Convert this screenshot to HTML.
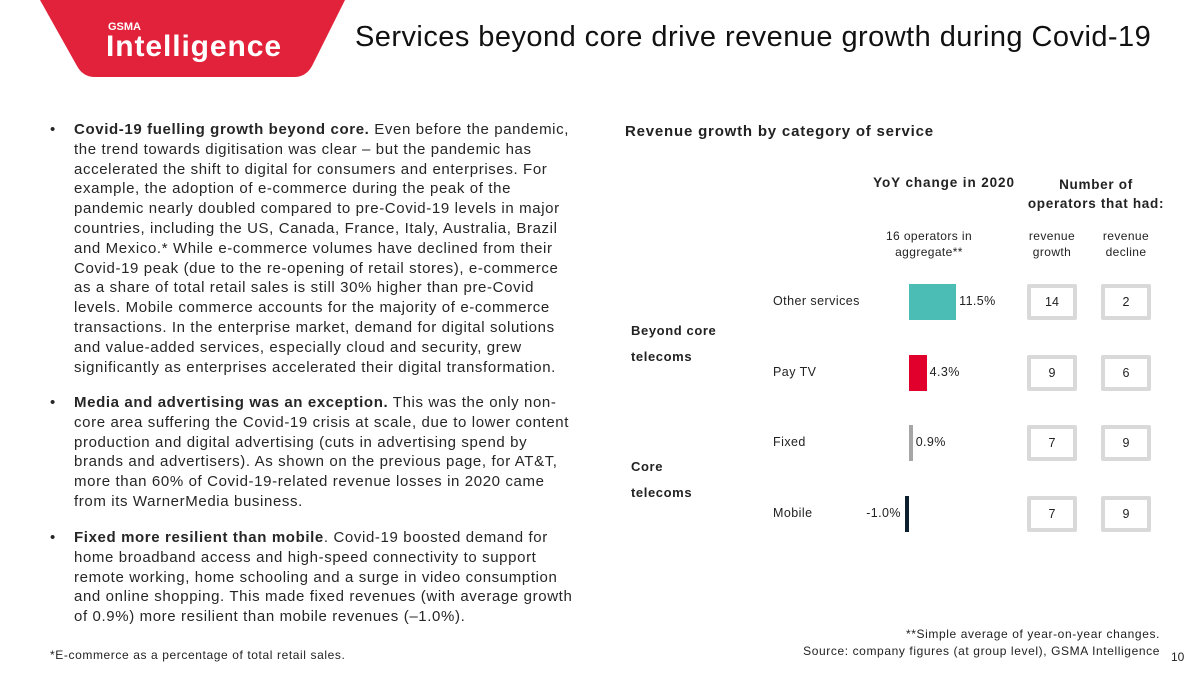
<!DOCTYPE html>
<html><head><meta charset="utf-8"><style>
body{margin:0;width:1200px;height:675px;position:relative;background:#fff;font-family:"Liberation Sans",sans-serif;color:#222;overflow:hidden}
.a{position:absolute;white-space:nowrap}
.body{position:absolute;left:50px;font-size:15px;letter-spacing:0.62px;line-height:19.8px;color:#262626}
.body .li{position:relative;padding-left:24px;white-space:nowrap}
.body .li:before{content:"•";position:absolute;left:0}
.c{text-align:center;transform:translateX(-50%)}
</style></head><body>
<svg class="a" style="left:0;top:0" width="360" height="80">
<path d="M40 0 L345 0 L312 66 Q306 77 294 77 L95 77 Q83 77 77 66 Z" fill="#e2223a"/>
<text x="108" y="30" fill="#fff" font-family="Liberation Sans" font-weight="bold" font-size="11">GSMA</text>
<text x="106" y="56" fill="#fff" font-family="Liberation Sans" font-weight="bold" font-size="30" textLength="175">Intelligence</text>
</svg>
<div class="a" style="left:355px;top:21px;font-size:29px;letter-spacing:0.45px;color:#111">Services beyond core drive revenue growth during Covid-19</div>

<div class="body" style="top:120px"><div class="li"><b>Covid-19 fuelling growth beyond core.</b> Even before the pandemic,<br>the trend towards digitisation was clear – but the pandemic has<br>accelerated the shift to digital for consumers and enterprises. For<br>example, the adoption of e-commerce during the peak of the<br>pandemic nearly doubled compared to pre-Covid-19 levels in major<br>countries, including the US, Canada, France, Italy, Australia, Brazil<br>and Mexico.* While e-commerce volumes have declined from their<br>Covid-19 peak (due to the re-opening of retail stores), e-commerce<br>as a share of total retail sales is still 30% higher than pre-Covid<br>levels. Mobile commerce accounts for the majority of e-commerce<br>transactions. In the enterprise market, demand for digital solutions<br>and value-added services, especially cloud and security, grew<br>significantly as enterprises accelerated their digital transformation.</div></div>
<div class="body" style="top:393px"><div class="li"><b>Media and advertising was an exception.</b> This was the only non-<br>core area suffering the Covid-19 crisis at scale, due to lower content<br>production and digital advertising (cuts in advertising spend by<br>brands and advertisers). As shown on the previous page, for AT&amp;T,<br>more than 60% of Covid-19-related revenue losses in 2020 came<br>from its WarnerMedia business.</div></div>
<div class="body" style="top:528px"><div class="li"><b>Fixed more resilient than mobile</b>. Covid-19 boosted demand for<br>home broadband access and high-speed connectivity to support<br>remote working, home schooling and a surge in video consumption<br>and online shopping. This made fixed revenues (with average growth<br>of 0.9%) more resilient than mobile revenues (–1.0%).</div></div>
<div class="a" style="left:50px;top:648px;font-size:12px;letter-spacing:0.6px">*E-commerce as a percentage of total retail sales.</div>

<div class="a" style="left:625px;top:123px;font-size:15px;font-weight:bold;letter-spacing:0.8px">Revenue growth by category of service</div>
<div class="a c" style="left:944px;top:175px;font-size:13.5px;font-weight:bold;letter-spacing:0.9px">YoY change in 2020</div>
<div class="a c" style="left:1096px;top:175px;font-size:13.5px;font-weight:bold;letter-spacing:0.7px;line-height:19px">Number of<br>operators that had:</div>
<div class="a c" style="left:929px;top:228px;font-size:12px;letter-spacing:0.4px;line-height:16px">16 operators in<br>aggregate**</div>
<div class="a c" style="left:1052px;top:228px;font-size:12px;letter-spacing:0.4px;line-height:16px">revenue<br>growth</div>
<div class="a c" style="left:1126px;top:228px;font-size:12px;letter-spacing:0.4px;line-height:16px">revenue<br>decline</div>
<div class="a" style="left:631px;top:318px;font-size:13px;font-weight:bold;letter-spacing:0.6px;line-height:26px">Beyond core<br>telecoms</div>
<div class="a" style="left:631px;top:454px;font-size:13px;font-weight:bold;letter-spacing:0.6px;line-height:26px">Core<br>telecoms</div>
<div id="chart"></div>
<div class="a" style="right:40px;top:626px;font-size:12px;letter-spacing:0.6px;text-align:right;line-height:17px">**Simple average of year-on-year changes.<br>Source: company figures (at group level), GSMA Intelligence</div>
<div class="a" style="left:1171px;top:650px;font-size:12px">10</div>
<script>
const categories=["Other services","Pay TV","Fixed","Mobile"];
const yoyValues=[11.5,4.3,0.9,-1.0];
const growthCounts=[14,9,7,7];
const declineCounts=[2,6,9,9];
const colors=["#4bbdb4","#e0002b","#a6a6a6","#0b1f2f"];
const zeroX=909, scale=4.1, rowTop=284, rowStep=70.5, barH=36;
const xs=v=>zeroX+v*scale;
const root=document.getElementById('chart');
function div(style,text){const d=document.createElement('div');d.className='a';d.style.cssText=style;if(text!==undefined)d.textContent=text;root.appendChild(d);return d;}
categories.forEach((c,i)=>{
 const y=rowTop+i*rowStep, v=yoyValues[i];
 const l=div(`left:773px;top:${y+10}px;font-size:12.5px;letter-spacing:0.45px`,c);
 
 
 const x0=Math.min(xs(0),xs(v)), w=Math.abs(xs(v)-xs(0));
 const b=div(`left:${x0}px;top:${y}px;width:${w}px;height:${barH}px;background:${colors[i]}`);
 
 
 const txt=v.toFixed(1)+'%';
 const t=v>=0?div(`left:${xs(v)+3}px;top:${y+10}px;font-size:12.5px;letter-spacing:0.4px`,txt):div(`left:${xs(v)-50}px;width:46px;text-align:right;top:${y+10}px;font-size:12.5px;letter-spacing:0.4px`,txt);
 
 
 [[1027,growthCounts[i]],[1101,declineCounts[i]]].forEach(([x,n],k)=>{
  const bx=div(`left:${x}px;top:${y}px;width:42px;height:28px;border:4px solid #d9d9d9;border-radius:2px;text-align:center;line-height:28px;font-size:12.5px`,String(n));
  
  
 });
});
</script>
</body></html>
